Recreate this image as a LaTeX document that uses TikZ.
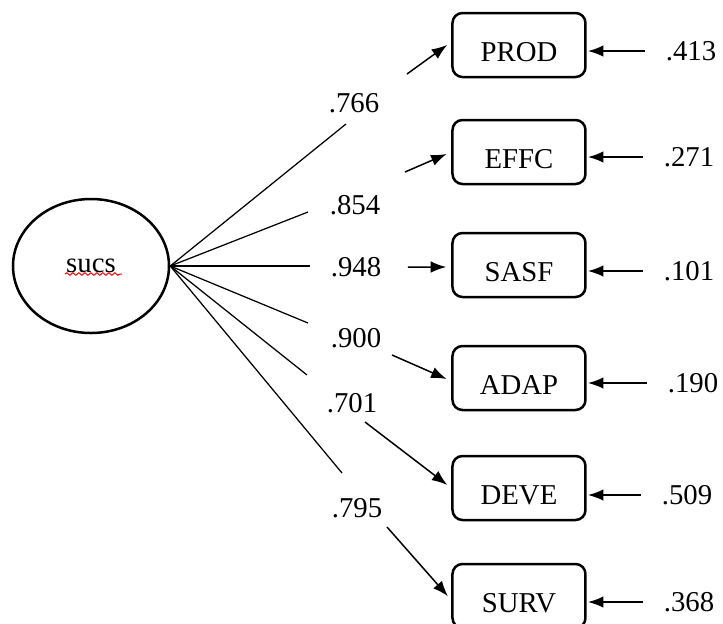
\documentclass[tikz,border=0pt]{standalone}
\usepackage{fontspec}
\setmainfont{Liberation Serif}
\usepackage{tikz}
\usetikzlibrary{shapes.geometric}
\usetikzlibrary{arrows.meta}
\usetikzlibrary{decorations.pathmorphing}

\begin{document}
\begin{tikzpicture}[x=0.4pt,y=-0.4pt,font=\fontsize{11.5}{13}\selectfont,
  varbox/.style={rectangle,minimum width=53.2pt,inner xsep=0pt,inner ysep=0pt,text height=19.4pt,text depth=6.2pt,rounded corners=4pt,draw,line width=1pt},
  trunk/.style={line width=0.5pt},
  load/.style={-{Latex[length=6.2pt,width=4.6pt]},line width=0.6pt,shorten >=2pt},
  err/.style={-{Latex[length=6.2pt,width=4.6pt]},line width=0.6pt,shorten <=5pt,shorten >=0.5pt}]
\useasboundingbox (0,0) rectangle (723,623);
% latent factor
\draw (91,266)node[ellipse,minimum width=62.4pt,minimum height=53.6pt,inner sep=0pt,draw,line width=1pt](sucs){sucs};
\draw[red,line width=0.4pt,decorate,decoration={snake,amplitude=0.5pt,segment length=2.4pt}](65,274)--(122,274);

% indicators
\draw (519,45)node[varbox](prod){PROD};
\draw (519,152)node[varbox](effc){EFFC};
\draw (519,265)node[varbox](sasf){SASF};
\draw (519,378)node[varbox](adap){ADAP};
\draw (519,488)node[varbox](deve){DEVE};
\draw (519,596)node[varbox](surv){SURV};

% loadings
\draw (354,103)node(lprod){.766};
\draw (355,205)node(leffc){.854};
\draw (356,267)node(lsasf){.948};
\draw (356,338)node(ladap){.900};
\draw (352,403)node(ldeve){.701};
\draw (357,508)node(lsurv){.795};
\coordinate (aprod) at (346,124); \coordinate (bprod) at (407,74);
\coordinate (aeffc) at (308,212); \coordinate (beffc) at (405,172);
\coordinate (asasf) at (310,266); \coordinate (bsasf) at (408,267);
\coordinate (aadap) at (308,323); \coordinate (badap) at (392,355);
\coordinate (adeve) at (307,375); \coordinate (bdeve) at (365,422);
\coordinate (asurv) at (342,473); \coordinate (bsurv) at (387,527);
\draw[trunk](sucs.east)--(aprod);
\draw[trunk](sucs.east)--(aeffc);
\draw[trunk](sucs.east)--(asasf);
\draw[trunk](sucs.east)--(aadap);
\draw[trunk](sucs.east)--(adeve);
\draw[trunk](sucs.east)--(asurv);
\draw[load](bprod)--([yshift=1.2pt]prod.west);
\draw[load](beffc)--(effc.west);
\draw[load](bsasf)--([yshift=-0.8pt]sasf.west);
\draw[load](badap)--([yshift=-1.2pt]adap.west);
\draw[load](bdeve)--(deve.west);
\draw[load](bsurv)--([yshift=-1.6pt]surv.west);

% error terms
\draw (691,51)node(eprod){.413};
\draw (689,157)node(eeffc){.271};
\draw (689,271)node(esasf){.101};
\draw (693,383)node(eadap){.190};
\draw (687,495)node(edeve){.509};
\draw (689,602)node(esurv){.368};
\draw[err](eprod.west)--(eprod.west -| prod.east);
\draw[err](eeffc.west)--(eeffc.west -| effc.east);
\draw[err](esasf.west)--(esasf.west -| sasf.east);
\draw[err](eadap.west)--(eadap.west -| adap.east);
\draw[err](edeve.west)--(edeve.west -| deve.east);
\draw[err](esurv.west)--(esurv.west -| surv.east);
\end{tikzpicture}
\end{document}
